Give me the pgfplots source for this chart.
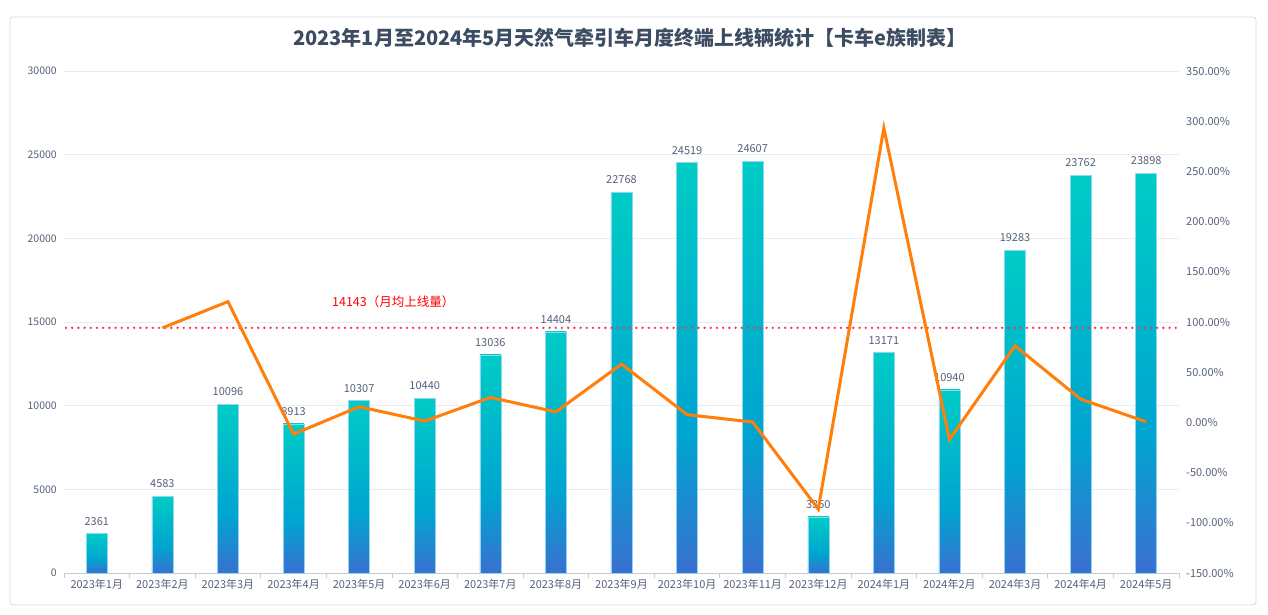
\documentclass[border=0pt]{standalone}
\usepackage{pgfplots}
\pgfplotsset{compat=1.18}
\usepackage{fontspec}
\setmainfont{Noto Sans CJK SC}
\definecolor{bartop}{HTML}{00CCC6}
\definecolor{barmid}{HTML}{00A4D0}
\definecolor{barbot}{HTML}{3A70D0}
\definecolor{barline}{HTML}{8FD6F0}
\definecolor{lineor}{HTML}{FF7F0A}
\definecolor{txt}{HTML}{56627A}
\definecolor{ttl}{HTML}{3C4C62}
\definecolor{gridc}{HTML}{E8EBF0}
\definecolor{avg}{HTML}{FF2D55}
\pgfdeclareverticalshading{barshade}{100bp}{color(0bp)=(barbot); color(25bp)=(barbot); color(42bp)=(barmid); color(75bp)=(bartop); color(100bp)=(bartop)}
\pgfplotstableread{
x y
0 2361
1 4583
2 10096
3 8913
4 10307
5 10440
6 13036
7 14404
8 22768
9 24519
10 24607
11 3350
12 13171
13 10940
14 19283
15 23762
16 23898
}\bars
\pgfplotstableread{
x g
1 94.11
2 120.29
3 -11.72
4 15.64
5 1.29
6 24.87
7 10.49
8 58.07
9 7.69
10 0.36
11 -86.39
12 293.16
13 -16.94
14 76.26
15 23.23
16 0.57
}\growth
\begin{document}
\begin{tikzpicture}[x=1pt,y=1pt]
\useasboundingbox (0,0) rectangle (1268,614);
\fill[white] (0,0) rectangle (1268,614);
\draw[gridc!85!gray, line width=0.8pt, rounded corners=3pt] (10,9) rectangle (1256,597);
\node[font=\fontsize{20}{24}\selectfont\bfseries, text=ttl] at (630,576) {2023年1月至2024年5月天然气牵引车月度终端上线辆统计【卡车e族制表】};
\begin{axis}[
  at={(64pt,41pt)}, anchor=south west, scale only axis,
  width=1115pt, height=502pt,
  xmin=-0.5, xmax=16.5, ymin=0, ymax=30000,
  axis x line*=bottom, axis y line*=left,
  x axis line style={draw=gridc!70!gray, line width=0.8pt, -},
  y axis line style={draw=none},
  xtick={0,...,16},
  xticklabels={2023年1月,2023年2月,2023年3月,2023年4月,2023年5月,2023年6月,2023年7月,2023年8月,2023年9月,2023年10月,2023年11月,2023年12月,2024年1月,2024年2月,2024年3月,2024年4月,2024年5月},
  minor xtick={-0.5,0.5,...,16.5},
  major tick length=0pt, minor tick length=5pt, tick align=outside,
  minor tick style={draw=gridc!70!gray, line width=0.8pt},
  ytick={0,5000,...,30000},
  yticklabels={0,5000,10000,15000,20000,25000,30000},
  scaled y ticks=false,
  ymajorgrids, grid style={draw=gridc, line width=0.8pt},
  xticklabel style={font=\fontsize{11}{13}\selectfont, text=txt, inner sep=0pt, yshift=-6pt},
  yticklabel style={font=\fontsize{10.5}{12}\selectfont, text=txt, inner sep=0pt, xshift=-7pt},
  /pgf/number format/assume math mode=true,
  /pgf/number format/1000 sep={},
]
\pgfplotsinvokeforeach{0,...,16}{
\addplot[ybar, bar shift=0pt, bar width=21pt, draw=barline, line width=0.5pt, shading=barshade,
  restrict expr to domain={\coordindex}{#1:#1},
  nodes near coords, every node near coord/.append style={font=\fontsize{11}{13}\selectfont, text=txt, inner sep=0pt, yshift=8pt}]
  table[x=x,y=y] {\bars};
}
\addplot[avg, line width=2.6pt, line cap=round, dash pattern=on 0pt off 6.2pt] coordinates {(-0.47,14650) (16.5,14650)};
\node[text=red, font=\fontsize{12.5}{15}\selectfont] at (axis cs:4.52,16200) {14143（月均上线量）};
\end{axis}
\begin{axis}[
  at={(64pt,41pt)}, anchor=south west, scale only axis,
  width=1115pt, height=502pt,
  xmin=-0.5, xmax=16.5, ymin=-150, ymax=350,
  axis x line=none, axis y line*=right,
  y axis line style={draw=none},
  major tick length=0pt,
  ytick={-150,-100,...,350},
  yticklabels={-150.00\%,-100.00\%,-50.00\%,0.00\%,50.00\%,100.00\%,150.00\%,200.00\%,250.00\%,300.00\%,350.00\%},
  yticklabel style={font=\fontsize{11}{13}\selectfont, text=txt, inner sep=0pt, xshift=7pt},
]
\addplot[lineor, line width=3pt, no markers] table[x=x,y=g] {\growth};
\end{axis}
\end{tikzpicture}
\end{document}
